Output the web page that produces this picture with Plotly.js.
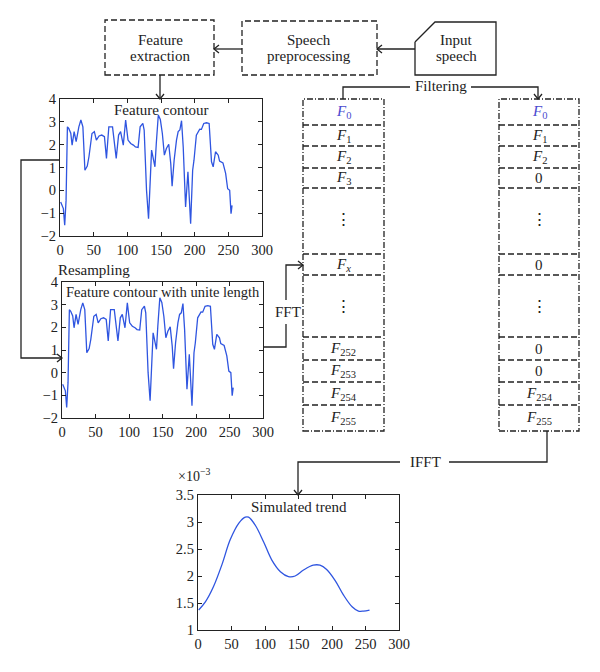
<!DOCTYPE html>
<html>
<head>
<meta charset="utf-8">
<script src="https://cdn.plot.ly/plotly-3.0.1.min.js"></script>
<style>html,body{margin:0;padding:0;background:#fff}#chart{width:600px;height:672px}</style>
</head>
<body>
<div id="chart"></div>
<script>
// ---------- data ----------
const contourX = [1,3,5,7,9,11,13,16,18,21,24,28,31,34,37,40.5,43,47.5,51,54,58,62,66,69,72.5,78,83.5,87,90,94,97.5,101,105,109,112,116,119,123,125,128.5,131.5,136,139,141,143,146,149,152,155,158,161.5,164.5,166.5,169.5,173,175.5,178,180.5,183,186.5,190,191.5,194,197,199,202.5,205,207.5,210,213.5,217.5,221.5,225,227.5,231,235,237,242,246,249,252,254,255.5];
const contourY = [-0.51,-0.66,-0.8,-1.53,-0.44,2.78,2.71,2.5,1.98,2.57,2.13,2.78,3.08,2.78,0.88,1.06,1.47,2.49,2.57,2.2,2.38,2.42,2.35,1.4,2.78,2.78,1.4,2.42,2.57,1.98,3.08,2.2,2.05,1.98,1.9,1.88,2.78,2.93,2.64,0.0,-1.24,1.76,1.4,1.03,2.05,3.3,3.1,2.49,1.54,1.83,2.02,1.17,0.18,1.32,2.2,2.57,2.64,3.05,1.9,-0.73,0.81,0.07,-1.46,0.88,1.32,2.42,2.57,2.68,2.67,2.93,2.96,2.93,1.25,1.03,1.69,1.54,1.28,1.2,0.74,0.07,0.0,-1.02,-0.66];
const resampledX = contourX;
const resampledY = contourY;
const trendX = [1,11,23,36,48,61,70.5,75.5,85.5,98,110,123,135,145,157.5,172,182,192,205,217,230,239.5,247,256];
const trendY = [1.37,1.52,1.80,2.22,2.67,2.98,3.09,3.09,2.94,2.63,2.30,2.08,1.99,2.0,2.11,2.20,2.20,2.12,1.91,1.65,1.43,1.35,1.35,1.37]; // x10^-3
const xTicks = [0,50,100,150,200,250,300];
const yTicksContour = [-2,-1,0,1,2,3,4];
const yTicksTrend = [1,1.5,2,2.5,3,3.5];
const leftColumn = ['<i>F</i><sub>0</sub>','<i>F</i><sub>1</sub>','<i>F</i><sub>2</sub>','<i>F</i><sub>3</sub>','⋮','<i>F<sub>x</sub></i>','⋮','<i>F</i><sub>252</sub>','<i>F</i><sub>253</sub>','<i>F</i><sub>254</sub>','<i>F</i><sub>255</sub>'];
const rightColumn = ['<i>F</i><sub>0</sub>','<i>F</i><sub>1</sub>','<i>F</i><sub>2</sub>','0','⋮','0','⋮','0','0','<i>F</i><sub>254</sub>','<i>F</i><sub>255</sub>'];

// ---------- geometry helpers ----------
const W = 600, H = 672;
const X = p => p / W;
const Y = p => 1 - p / H;
const INK = '#222';
const FONT = 'Liberation Serif, Times New Roman, serif';
const shapes = [];
const annotations = [];
function seg(pts, dash) {
  let d = pts.map((p, i) => (i ? 'L' : 'M') + X(p[0]) + ',' + Y(p[1])).join(' ');
  shapes.push({type:'path', xref:'paper', yref:'paper', path:d, line:{color:INK, width:1.3, dash:dash||'solid'}});
}
function rect(x0,y0,x1,y1,dash){
  shapes.push({type:'rect', xref:'paper', yref:'paper', x0:X(x0), x1:X(x1), y0:Y(y1), y1:Y(y0), line:{color:INK, width:1.3, dash:dash}, fillcolor:'rgba(0,0,0,0)'});
}
function head(tx, ty, dir){
  const a = 5, b = 4;
  if (dir === 'left') seg([[tx+a,ty-b],[tx,ty],[tx+a,ty+b]]);
  if (dir === 'right') seg([[tx-a,ty-b],[tx,ty],[tx-a,ty+b]]);
  if (dir === 'down') seg([[tx-b,ty-a],[tx,ty],[tx+b,ty-a]]);
}
function txt(t, x, y, opts){
  opts = opts || {};
  annotations.push({text:t, xref:'paper', yref:'paper', x:X(x), y:Y(y), showarrow:false,
    xanchor:opts.xanchor||'center', yanchor:'middle',
    font:{family:opts.family||FONT, size:opts.size||15, color:opts.color||INK}});
}

// top boxes
rect(105,20,214,75,'6px,3px');
rect(242,21,377,75,'6px,3px');
seg([[415,42],[435,22],[496,22],[496,75],[415,75],[415,42]]);
txt('Feature',160,40); txt('extraction',160,56);
txt('Speech',309,40); txt('preprocessing',309,56);
txt('Input',456,40); txt('speech',456,56);
seg([[415,49],[377,49]]); head(377,49,'left');
seg([[242,49],[214,49]]); head(214,49,'left');
seg([[160,75],[160,99]]); head(160,99,'down');

// contour -> resampled connector
seg([[60,160],[21,160],[21,358],[62,358]]); head(62,358,'right');
txt('Resampling',56,270,{xanchor:'left'});

// FFT connector
seg([[263,347],[286,347],[286,324]]);
seg([[286,300],[286,265],[303,265]]); head(303,265,'right');
txt('FFT',288,312);

// Filtering connector
seg([[343,99],[343,87],[410,87]]);
seg([[471,87],[538,87],[538,99]]); head(538,99,'down');
txt('Filtering',441,86);

// columns
const rowEdges = [125,146,168,188,254,275,337,360,382,405];
const rowCenters = [112,135.5,157,178,219,264.5,306,348.5,371,393.5,418];
[[303,384,343,leftColumn],[499,579,539,rightColumn]].forEach(([x0,x1,xc,labels])=>{
  rect(x0,99,x1,431,'6px,2px,1px,2px');
  rowEdges.forEach(e=>seg([[x0,e],[x1,e]],'6px,3px'));
  labels.forEach((l,i)=>{
    const dots = l === '⋮';
    txt(l, xc, rowCenters[i], {size: dots?17:15, color: i===0?'#4b4bd0':INK, family: dots?'DejaVu Serif':FONT});
  });
});

// IFFT connector
seg([[547,431],[547,462],[449,462]]);
seg([[400,462],[298,462],[298,495]]); head(298,495,'down');
txt('IFFT',425,462);

// plot titles
txt('Feature contour',161,110,{size:15});
txt('Feature contour with unite length',163,292,{size:14.5});
txt('Simulated trend',299,507,{size:15});
txt('×10<sup>−3</sup>',194,475,{size:14});

// ---------- traces ----------
const lineStyle = {color:'#2f55e0', width:1.3};
const traces = [
  {x:contourX, y:contourY, type:'scatter', mode:'lines', line:lineStyle, xaxis:'x', yaxis:'y', hoverinfo:'skip'},
  {x:resampledX, y:resampledY, type:'scatter', mode:'lines', line:lineStyle, xaxis:'x2', yaxis:'y2', hoverinfo:'skip'},
  {x:trendX, y:trendY, type:'scatter', mode:'lines', line:Object.assign({shape:'spline'},lineStyle), xaxis:'x3', yaxis:'y3', hoverinfo:'skip'}
];

function ax(domain, range, tickvals, anchor){
  return {domain:domain, range:range, tickvals:tickvals, anchor:anchor,
    ticks:'inside', ticklen:4, tickcolor:INK, showline:true, linecolor:INK, linewidth:1.2,
    mirror:'ticks', showgrid:false, zeroline:false, fixedrange:true,
    tickfont:{family:FONT, size:14.5, color:INK}};
}
const layout = {
  width:W, height:H, margin:{l:0,r:0,t:0,b:0}, showlegend:false,
  paper_bgcolor:'#fff', plot_bgcolor:'#fff',
  xaxis: ax([X(60),X(262)],[0,300],xTicks,'y'),
  yaxis: ax([Y(236),Y(99)],[-2,4],yTicksContour,'x'),
  xaxis2: ax([X(62),X(263)],[0,300],xTicks,'y2'),
  yaxis2: ax([Y(418),Y(282)],[-2,4],yTicksContour,'x2'),
  xaxis3: ax([X(198),X(399)],[0,300],xTicks,'y3'),
  yaxis3: ax([Y(630),Y(495)],[1,3.5],yTicksTrend,'x3'),
  shapes:shapes, annotations:annotations
};
Plotly.newPlot('chart', traces, layout, {staticPlot:true, displayModeBar:false});
</script>
</body>
</html>
